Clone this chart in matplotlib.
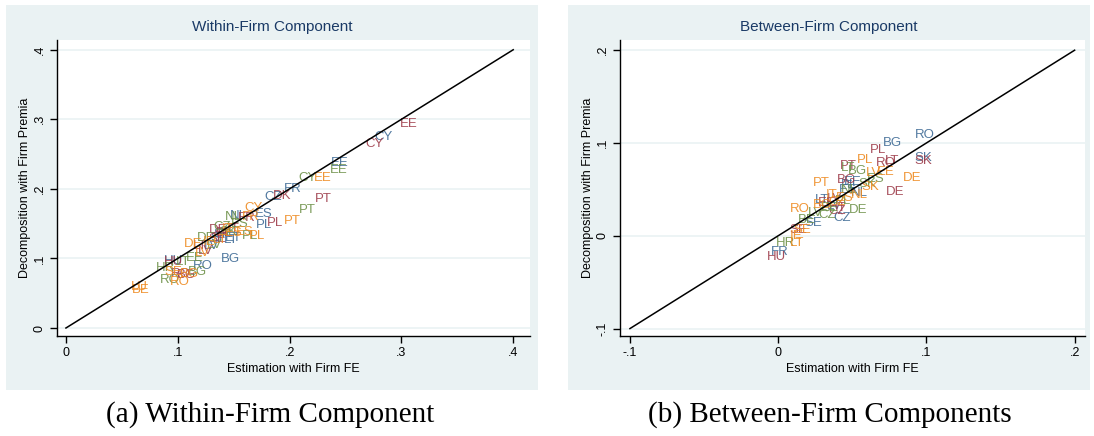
import matplotlib
matplotlib.use('Agg')
import matplotlib.pyplot as plt
from matplotlib.patches import Rectangle

plt.rcParams['font.family'] = 'Liberation Sans'

# group colours (one per period)
group_colors = ['#3F6B96', '#9E3D4B', '#6E9149', '#EE8B22']

# ---- Within-firm panel: labels, x (firm FE), y (firm premia) per group ----
w_lab = [
    ['CY', 'EE', 'FR', 'CZ', 'ES', 'PL', 'NL', 'LT', 'SK', 'LV', 'BG', 'RO', 'HU', 'ET', 'SI'],
    ['EE', 'CY', 'DK', 'PT', 'PL', 'FR', 'DE', 'BE', 'LV', 'HU', 'BG', 'RO', 'SE', 'LT', 'IT'],
    ['EE', 'CY', 'PT', 'ES', 'SK', 'PL', 'DE', 'EE', 'LT', 'HR', 'BG', 'RO', 'NL', 'LV', 'CZ'],
    ['EE', 'PT', 'CY', 'FR', 'ES', 'PL', 'IE', 'ES', 'DE', 'LV', 'SE', 'BG', 'RO', 'LU', 'BE', 'LT', 'IT'],
]
w_x = [
    [0.284, 0.245, 0.203, 0.185, 0.177, 0.177, 0.154, 0.148, 0.140, 0.130, 0.147, 0.122, 0.096, 0.150, 0.135],
    [0.307, 0.276, 0.193, 0.230, 0.187, 0.162, 0.136, 0.142, 0.125, 0.096, 0.108, 0.103, 0.135, 0.120, 0.150],
    [0.244, 0.216, 0.216, 0.155, 0.145, 0.165, 0.125, 0.115, 0.105, 0.089, 0.118, 0.093, 0.150, 0.133, 0.140],
    [0.230, 0.202, 0.168, 0.165, 0.160, 0.171, 0.128, 0.150, 0.114, 0.122, 0.096, 0.110, 0.102, 0.066, 0.067, 0.138, 0.145],
]
w_y = [
    [0.275, 0.237, 0.200, 0.188, 0.164, 0.148, 0.161, 0.126, 0.135, 0.118, 0.099, 0.089, 0.097, 0.129, 0.130],
    [0.2935, 0.265, 0.190, 0.186, 0.151, 0.158, 0.141, 0.136, 0.110, 0.095, 0.076, 0.078, 0.128, 0.118, 0.143],
    [0.227, 0.216, 0.170, 0.150, 0.138, 0.132, 0.129, 0.101, 0.095, 0.086, 0.081, 0.069, 0.160, 0.120, 0.145],
    [0.216, 0.154, 0.173, 0.160, 0.138, 0.132, 0.123, 0.137, 0.121, 0.108, 0.081, 0.078, 0.066, 0.059, 0.055, 0.127, 0.142],
]

# ---- Between-firm panel ----
b_lab = [
    ['RO', 'BG', 'SK', 'ES', 'LT', 'CZ', 'SE', 'FR', 'LV', 'EE', 'NL', 'PL'],
    ['PL', 'SK', 'RO', 'LT', 'PT', 'BG', 'DE', 'CZ', 'SE', 'HU', 'EE', 'IT', 'LV'],
    ['LT', 'BG', 'ES', 'DE', 'LV', 'BE', 'HR', 'SK', 'PL', 'CZ', 'NL', 'EE'],
    ['PL', 'EE', 'LV', 'DE', 'PT', 'SK', 'IT', 'NL', 'RO', 'SE', 'IE', 'LT', 'ES', 'BG', 'CZ'],
]
b_x = [
    [0.0991, 0.0769, 0.0978, 0.0470, 0.0297, 0.0430, 0.0236, 0.0013, 0.0380, 0.0500, 0.0550, 0.0480],
    [0.0674, 0.0978, 0.0728, 0.0770, 0.0472, 0.0459, 0.0790, 0.0400, 0.0135, -0.0013, 0.0330, 0.0420, 0.0380],
    [0.0472, 0.0533, 0.0660, 0.0540, 0.0250, 0.0196, 0.0047, 0.0600, 0.0440, 0.0330, 0.0480, 0.0350],
    [0.0587, 0.0728, 0.0640, 0.0904, 0.0290, 0.0620, 0.0364, 0.0550, 0.0148, 0.0160, 0.0120, 0.0128, 0.0450, 0.0300, 0.0400],
]
b_y = [
    [0.109, 0.100, 0.084, 0.0496, 0.0388, 0.019, 0.014, -0.017, 0.032, 0.058, 0.046, 0.055],
    [0.0928, 0.081, 0.0787, 0.081, 0.0755, 0.0604, 0.0475, 0.027, 0.0065, -0.0227, 0.035, 0.030, 0.040],
    [0.0735, 0.070, 0.0615, 0.028, 0.0248, 0.017, -0.0076, 0.056, 0.038, 0.022, 0.049, 0.030],
    [0.082, 0.069, 0.068, 0.0626, 0.057, 0.053, 0.044, 0.044, 0.029, 0.006, 0.000, -0.0076, 0.041, 0.033, 0.036],
]

W, H = 1094, 436
fig = plt.figure(figsize=(W / 100, H / 100), dpi=100)
fig.patch.set_facecolor('white')

# light panel backgrounds (graph region)
panels = [(6, 538), (568, 1090)]
for x0, x1 in panels:
    fig.patches.append(Rectangle((x0 / W, 1 - 390 / H), (x1 - x0) / W, 385 / H,
                                 transform=fig.transFigure, facecolor='#EAF2F3',
                                 edgecolor='none', zorder=-5))

ax1 = fig.add_axes([57 / W, 1 - 336 / H, 473 / W, 296 / H])
ax2 = fig.add_axes([620 / W, 1 - 336 / H, 465 / W, 296 / H])


def style(ax, ticks, ticklabels, lims):
    ax.set_facecolor('white')
    for s in ['top', 'right']:
        ax.spines[s].set_visible(False)
    ax.spines['left'].set_linewidth(1.0)
    ax.spines['bottom'].set_linewidth(1.0)
    ax.set_xlim(lims[0])
    ax.set_ylim(lims[1])
    ax.set_xticks(ticks)
    ax.set_xticklabels(ticklabels, fontsize=9)
    ax.set_yticks(ticks)
    ax.set_yticklabels(ticklabels, fontsize=9, rotation=90, va='center')
    ax.tick_params(direction='out', length=5, width=1.0, pad=3)
    ax.yaxis.grid(True, color='#EAF2F3', linewidth=1.2)
    ax.set_axisbelow(True)
    ax.set_xlabel('Estimation with Firm FE', fontsize=9, labelpad=3)
    ax.set_ylabel('Decomposition with Firm Premia', fontsize=9, labelpad=2)


style(ax1, [0, 0.1, 0.2, 0.3, 0.4], ['0', '.1', '.2', '.3', '.4'],
      [(-0.008, 0.415), (-0.0115, 0.414)])
style(ax2, [-0.1, 0, 0.1, 0.2], ['-.1', '0', '.1', '.2'],
      [(-0.1067, 0.207), (-0.108, 0.211)])

titles = ['Within-Firm Component', 'Between-Firm Component']
for (x0, x1), t in zip(panels, titles):
    fig.text((x0 + x1) / 2 / W, 1 - 27 / H, t, fontsize=11, color='#1A3A66',
             ha='center', va='center')

ax1.plot([0, 0.4], [0, 0.4], color='black', lw=1.1, zorder=3)
ax2.plot([-0.1, 0.2], [-0.1, 0.2], color='black', lw=1.1, zorder=3)

for ax, labs, xs, ys in [(ax1, w_lab, w_x, w_y), (ax2, b_lab, b_x, b_y)]:
    for g in range(4):
        for lab, x, y in zip(labs[g], xs[g], ys[g]):
            ax.text(x, y, lab, color=group_colors[g], fontsize=9.5,
                    ha='center', va='center', alpha=0.9, zorder=2)

fig.text(270 / W, 1 - 415 / H, '(a) Within-Firm Component', family='Liberation Serif',
         fontsize=21, ha='center', va='center')
fig.text(830 / W, 1 - 415 / H, '(b) Between-Firm Components', family='Liberation Serif',
         fontsize=21, ha='center', va='center')

fig.savefig('out.png', dpi=100, facecolor='white')
